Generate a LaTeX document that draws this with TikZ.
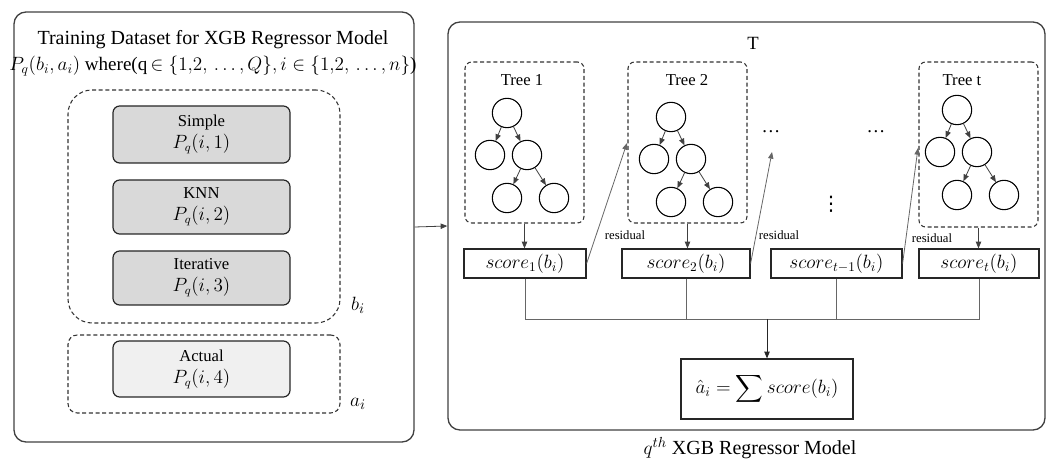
\documentclass[tikz,border=0pt]{standalone}
\usepackage{amsmath}
\usepackage{fontspec}
\setmainfont{Liberation Serif}
\newfontfamily\djv{DejaVu Sans}
\usetikzlibrary{arrows.meta,fit}
\tikzset{
  outerbox/.style={draw=black!75, line width=1pt, rounded corners=9pt, inner sep=0pt},
  dbox/.style={draw=black!80, dash pattern=on 3pt off 2pt, line width=0.8pt, inner sep=0pt},
  graybox/.style={draw=black!85, line width=0.9pt, rounded corners=5pt, fill=black!15, inner sep=0pt},
  lightbox/.style={draw=black!85, line width=0.9pt, rounded corners=5pt, fill=black!6, inner sep=0pt},
  scorebox/.style={draw=black!85, line width=0.9pt, inner sep=0pt},
  tnode/.style={circle, draw=black, line width=0.8pt, minimum size=22pt, inner sep=0pt},
  arr/.style={-{Triangle[length=5pt,width=4pt]}},
  conn/.style={draw=black!60, line width=0.6pt},
  tarr/.style={draw=black!75, line width=0.6pt, -{Triangle[length=5pt,width=4pt]}},
  txt/.style={inner sep=0pt, align=center},
}
\newcommand{\fsz}[1]{\fontsize{#1}{1.25\dimexpr #1pt\relax}\selectfont}
\newcommand{\pqmath}[1]{{\fsz{13.5}$P_q(i,#1)$}}
\begin{document}
\begin{tikzpicture}[x=0.75pt,y=-0.75pt]
\useasboundingbox (0,0) rectangle (1053,459);
% ---------- left panel
\node[outerbox, fit={(14,12) (414,442)}] (left) {};
\node[txt, font=\fsz{15}] (title1) at (213,40) {Training Dataset for XGB Regressor Model};
\node[txt, font=\fsz{14.3}] (title2) at (213,66) {$P_q(b_i{,}\,a_i)$ where(q\,$\in\{1{,}2{,}\,\ldots{,}\,Q\}{,}\,i\in\{1{,}2{,}\,\ldots{,}\,n\}$)};
\node[dbox, rounded corners=18pt, fit={(68,90) (340,323)}] (bbox) {};
\node[graybox, fit={(113,106) (290,163)}] (simple) {};
\node[txt, font=\fsz{12.5}, align=center] (simplet) at (simple.center) {Simple\\[1pt]\pqmath{1}};
\node[graybox, fit={(113,180) (290,234)}] (knn) {};
\node[txt, font=\fsz{12.5}, align=center] (knnt) at (knn.center) {KNN\\[1pt]\pqmath{2}};
\node[graybox, fit={(113,251) (290,305)}] (iter) {};
\node[txt, font=\fsz{12.5}, align=center] (itert) at (iter.center) {Iterative\\[1pt]\pqmath{3}};
\node[dbox, rounded corners=7pt, fit={(68,335) (340,413)}] (abox) {};
\node[lightbox, fit={(113,341) (290,397)}] (actual) {};
\node[txt, font=\fsz{12.5}, align=center] (actualt) at (actual.center) {Actual\\[1pt]\pqmath{4}};
\node[txt, font=\fsz{15}] (blab) at (358,305) {$b_i$};
\node[txt, font=\fsz{15}] (alab) at (358,404) {$a_i$};
% ---------- right panel
\node[outerbox, fit={(448,22) (1045,430)}] (right) {};
\draw[conn, arr, draw=black!75] (left.east) -- (right.west);
\node[txt, font=\fsz{14}] (T) at (753,43) {T};
\node[dbox, rounded corners=5pt, fit={(465,62) (584,223)}] (tree1) {};
\node[dbox, rounded corners=5pt, fit={(628,62) (747,223)}] (tree2) {};
\node[dbox, rounded corners=5pt, fit={(919,62) (1038,227)}] (treet) {};
\node[txt, font=\fsz{12.5}] (tl1) at (522,80) {Tree 1};
\node[txt, font=\fsz{12.5}] (tl2) at (687,80) {Tree 2};
\node[txt, font=\fsz{12.5}] (tlt) at (962,80) {Tree t};
% trees
\foreach \n/\x/\y in {a/507/113, b/671/117, c/957/110}{
  \node[tnode] (\n r) at (\x,\y) {};
  \node[tnode] (\n l) at (\x-17,\y+42) {};
  \node[tnode] (\n m) at (\x+20,\y+42) {};
  \node[tnode] (\n p) at (\x,\y+85) {};
  \node[tnode] (\n q) at (\x+47,\y+85) {};
  \draw[tarr] (\n r) -- (\n l);
  \draw[tarr] (\n r) -- (\n m);
  \draw[tarr] (\n m) -- (\n p);
  \draw[tarr] (\n m) -- (\n q);
}
% score boxes
\node[scorebox, fit={(464,249) (586,278)}] (s1) {};
\node[txt, font=\fsz{14.5}] at (s1.center) {$score_1(b_i)$};
\node[scorebox, fit={(622,249) (750,278)}] (s2) {};
\node[txt, font=\fsz{14.5}] at (s2.center) {$score_2(b_i)$};
\node[scorebox, fit={(771,249) (902,278)}] (s3) {};
\node[txt, font=\fsz{14.5}] at (s3.center) {$score_{t-1}(b_i)$};
\node[scorebox, fit={(919,249) (1039,278)}] (s4) {};
\node[txt, font=\fsz{14.5}] at (s4.center) {$score_t(b_i)$};
\draw[tarr] (tree1.south) -- (tree1.south |- s1.north);
\draw[tarr] (tree2.south) -- (tree2.south |- s2.north);
\draw[tarr] (treet.south) -- (treet.south |- s4.north);
% dots
\node[txt, font=\fsz{14}] (d1) at (771,132) {\ldots};
\node[txt, font=\fsz{14}] (d2) at (876,132) {\ldots};
\node[txt, font=\fsz{15}\djv] (d3) at (831,204) {⋮};
% residuals
\coordinate (r1) at (627,143);
\coordinate (r2) at (772,152);
\coordinate (r3) at (918,148);
\draw[conn, arr] (s1.east) -- (r1);
\draw[conn, arr] (s2.east) -- (r2);
\draw[conn, arr] (s3.east) -- (r3);
\node[txt, font=\fsz{9.5}] (res1) at (625,235) {residual};
\node[txt, font=\fsz{9.5}] (res2) at (779,235) {residual};
\node[txt, font=\fsz{9.5}] (res3) at (932,238) {residual};
% sum
\node[scorebox, fit={(681,359) (853,419)}] (sum) {};
\node[txt, font=\fsz{14}] at (sum.center) {$\displaystyle\hat{a}_i = \sum score(b_i)$};
\coordinate (bus) at (767,319);
\draw[conn] (s1.south) -- (s1.south |- bus) -- (s4.south |- bus) -- (s4.south);
\draw[conn] (s2.south) -- (s2.south |- bus);
\draw[conn] (s3.south) -- (s3.south |- bus);
\draw[conn, arr, draw=black!85] (bus) -- (sum.north);
\node[txt, font=\fsz{15}] (cap) at (750,448) {$q^{th}$ XGB Regressor Model};
\end{tikzpicture}
\end{document}
